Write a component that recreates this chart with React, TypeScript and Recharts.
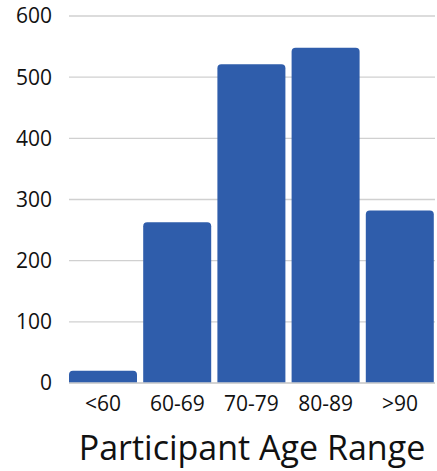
import React from 'react';
import { BarChart, Bar, XAxis, YAxis, CartesianGrid } from 'recharts';

const categories = ['<60', '60-69', '70-79', '80-89', '>90'];
const counts = [20, 263, 521, 548, 282];
const yTicks = [0, 100, 200, 300, 400, 500, 600];

const data = categories.map((c, i) => ({ range: c, count: counts[i] }));

export default function App() {
  return (
    <div style={{ position: 'absolute', left: 0, top: 0, background: '#fff' }}>
      <BarChart
        width={437}
        height={471}
        data={data}
        margin={{ top: 16, right: 2, left: 0, bottom: 0 }}
        barCategoryGap={3}
      >
        <CartesianGrid vertical={false} stroke="#d0d0d0" strokeWidth={1.3} />
        <XAxis
          dataKey="range"
          height={88}
          padding={{ left: -3, right: -2 }}
          axisLine={{ stroke: '#d0d0d0', strokeWidth: 1.3 }}
          tickLine={false}
          tickSize={0}
          tickMargin={13}
          tick={{ fill: '#111', fontSize: 21, fontFamily: 'Open Sans' }}
          interval={0}
          label={{
            value: 'Participant Age Range',
            position: 'insideBottom',
            offset: 11,
            fill: '#111',
            fontSize: 34,
            fontFamily: 'Open Sans',
          }}
        />
        <YAxis
          width={69}
          domain={[0, 600]}
          ticks={yTicks}
          axisLine={false}
          tickLine={false}
          tickSize={0}
          tickMargin={17}
          interval={0}
          tick={{ fill: '#111', fontSize: 21, fontFamily: 'Open Sans' }}
        />
        <Bar dataKey="count" fill="#2F5DAB" radius={[4, 4, 0, 0]} isAnimationActive={false} />
      </BarChart>
    </div>
  );
}
